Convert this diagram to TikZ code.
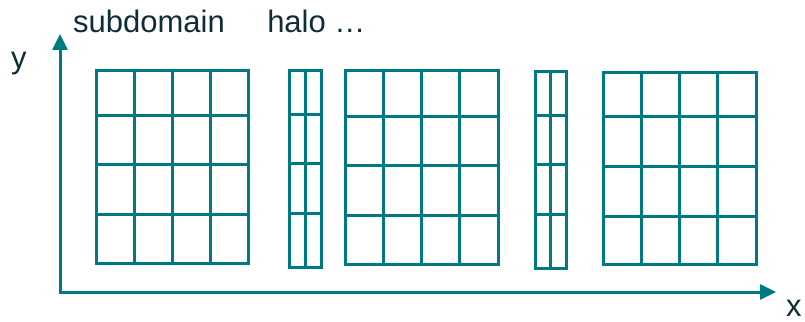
\documentclass[tikz,border=0pt]{standalone}
\usepackage{fontspec}
\setmainfont{Liberation Sans}
\usetikzlibrary{arrows.meta, positioning}
\definecolor{gridteal}{RGB}{0,122,130}
\definecolor{labeltext}{RGB}{16,44,54}

\begin{document}
\begin{tikzpicture}[
x=1pt, y=-1pt,
cell/.style={draw=gridteal, line width=3pt},
axis/.style={draw=gridteal, line width=3pt, {Triangle[length=16pt,width=15pt]}-{Triangle[length=16pt,width=15pt]}},
tag/.style={text=labeltext, font=\fontsize{31}{37}\selectfont, inner sep=0pt, anchor=base west}
]
\useasboundingbox (0,0) rectangle (805,321);

% axes
\coordinate (origin) at (60,292);
\coordinate (ytip) at (60,34);
\coordinate (xtip) at (776,292);
\draw[axis] (ytip) -- (origin) -- (xtip);

\node[tag] (ylabel) at (11,69) {y};
\node[tag] (xlabel) at (786,316) {x};
\node[tag] (subdomain) at (73,33) {subdomain};
\node[tag, right=42pt of subdomain.base east, anchor=base west] (halo) {halo …};

% subdomains
\foreach \l/\r/\t/\b/\ha/\hb/\hc in {96/248/70/263/115/164/214, 345/498/70/264/116/165/215, 603/756/72/264/116/166/216}{
  \draw[cell] (\l,\t) rectangle (\r,\b);
  \foreach \k in {1,2,3}
    \draw[cell] ({\l+\k*(\r-\l)/4},\t) -- ({\l+\k*(\r-\l)/4},\b);
  \foreach \h in {\ha,\hb,\hc}
    \draw[cell] (\l,\h) -- (\r,\h);
}

% halos
\foreach \l/\r/\t/\b/\ha/\hb/\hc in {289/321/70/267/114/163/213, 535/566/71/268/115/164/214}{
  \draw[cell] (\l,\t) rectangle (\r,\b);
  \draw[cell] ({(\l+\r)/2},\t) -- ({(\l+\r)/2},\b);
  \foreach \h in {\ha,\hb,\hc}
    \draw[cell] (\l,\h) -- (\r,\h);
}

\end{tikzpicture}
\end{document}
